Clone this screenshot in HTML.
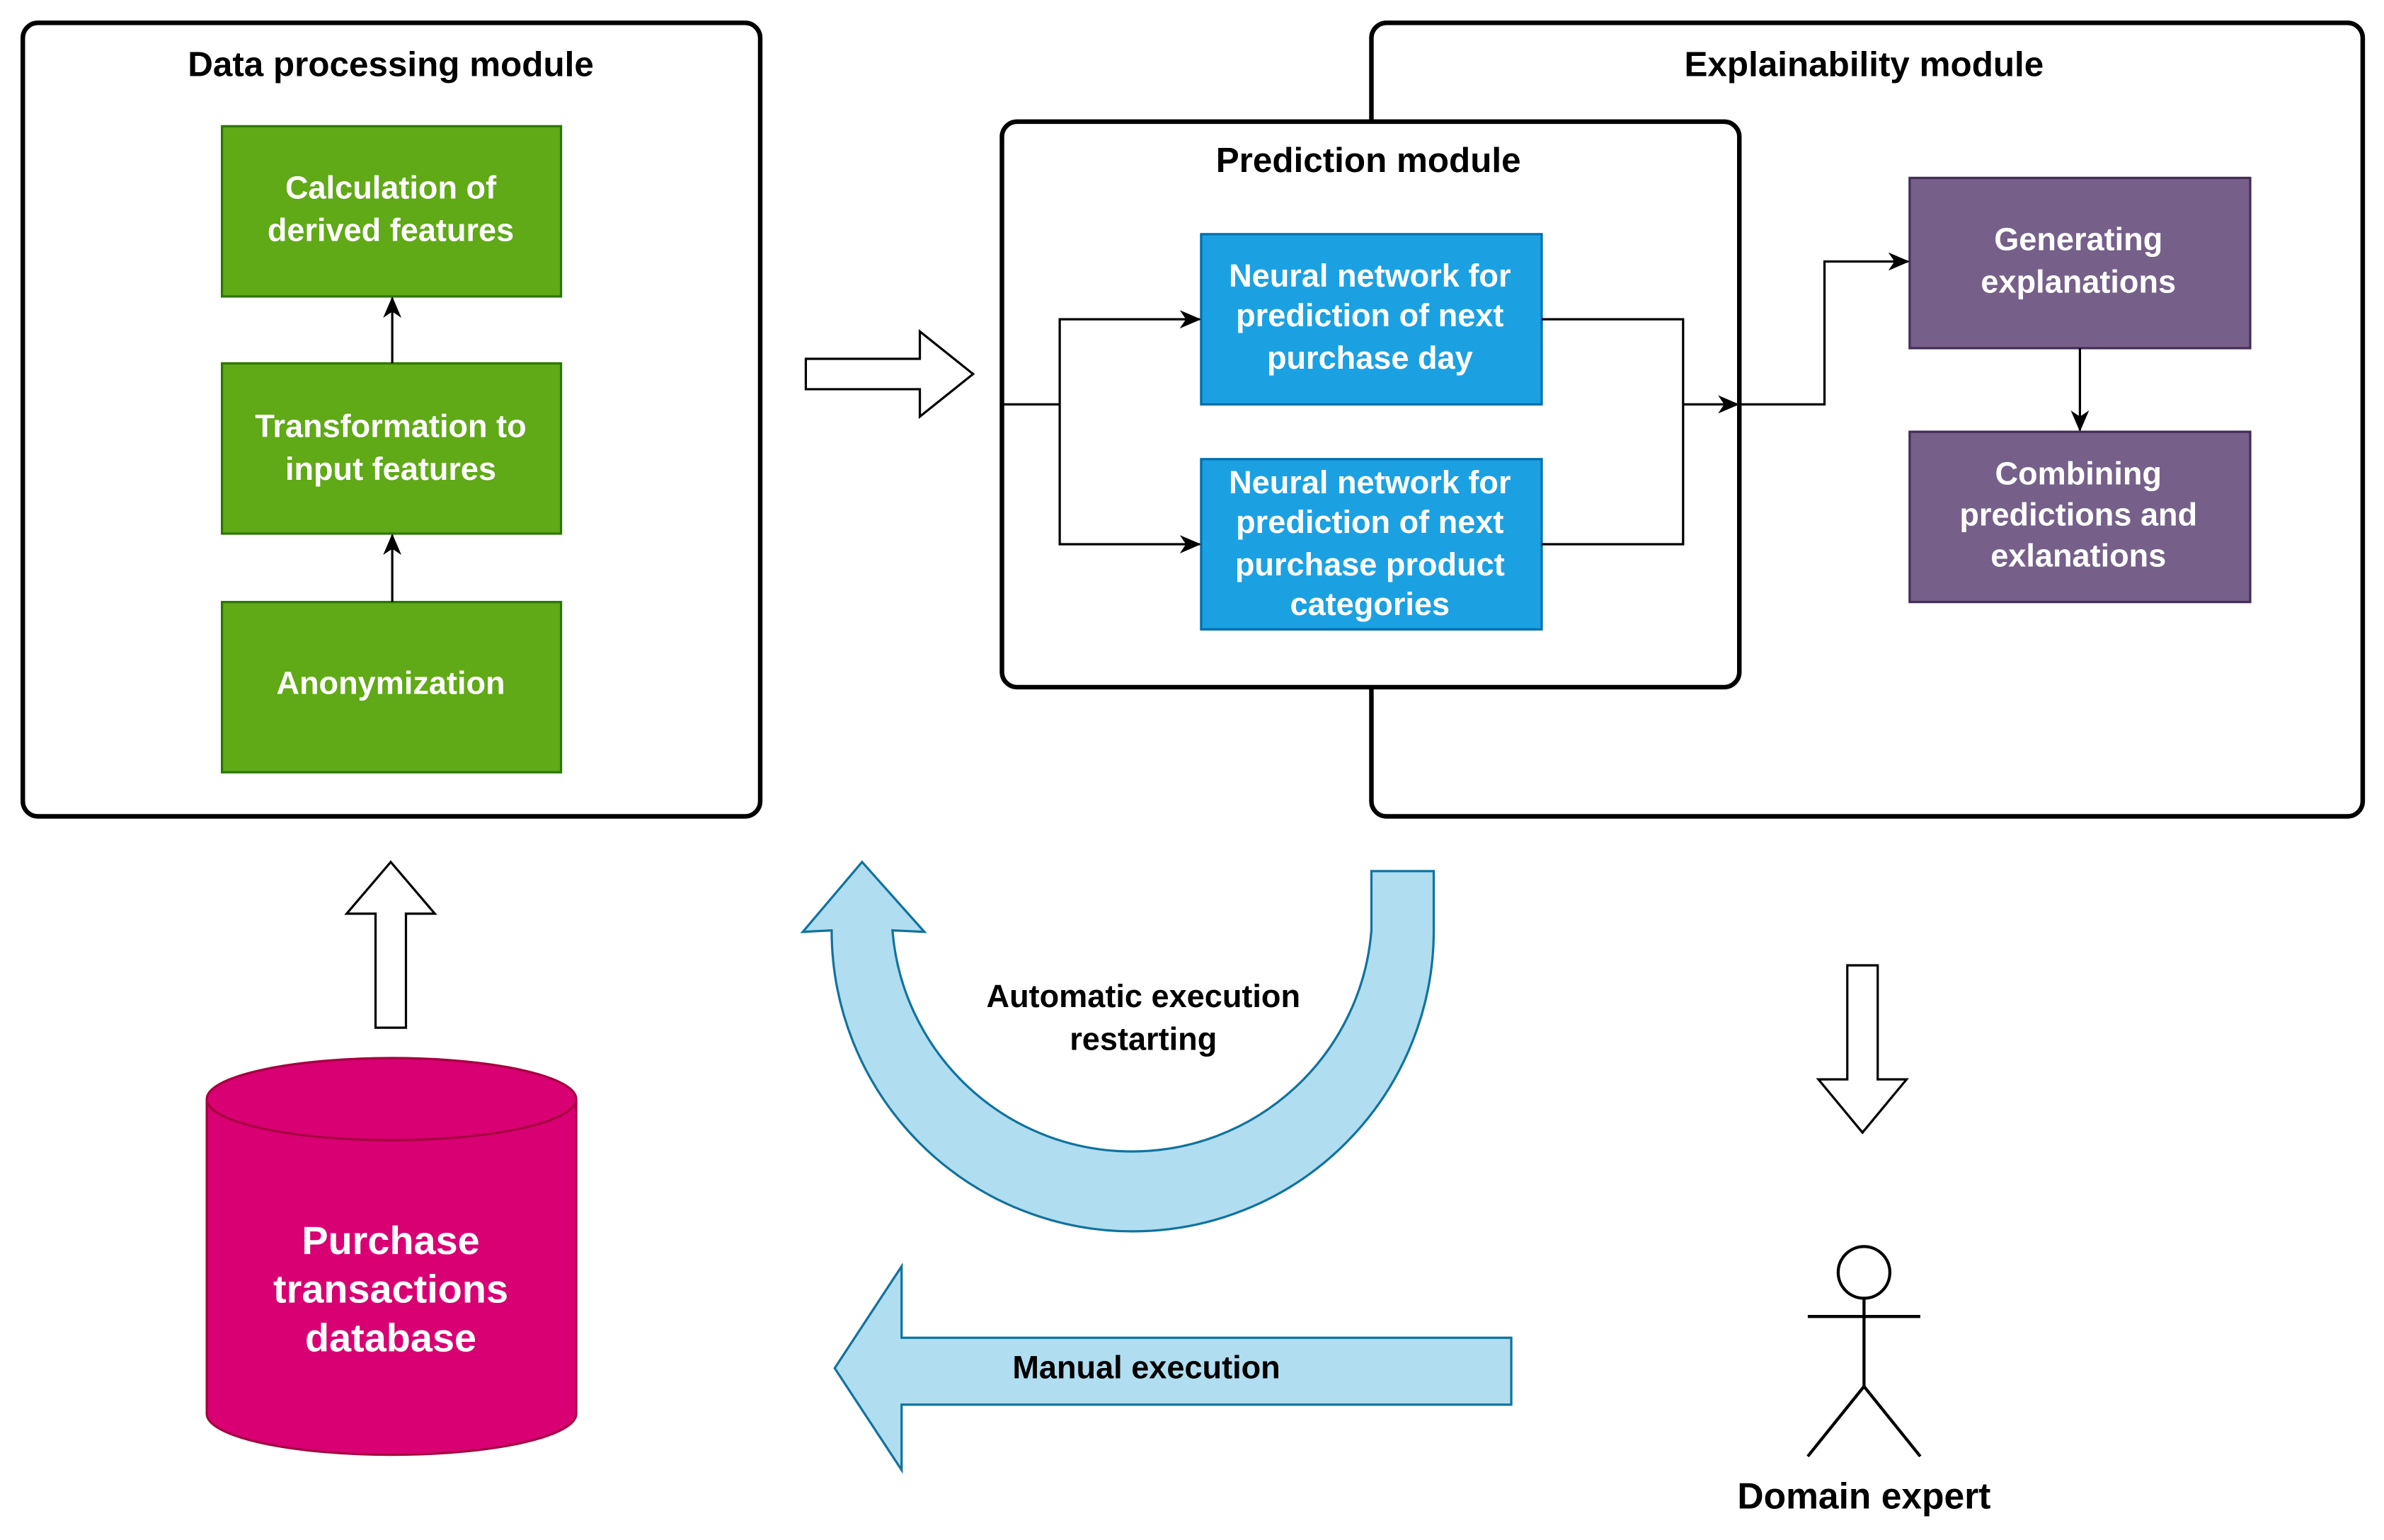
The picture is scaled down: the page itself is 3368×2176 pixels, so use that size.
<!DOCTYPE html>
<html><head><meta charset="utf-8"><style>
html,body{margin:0;padding:0;background:#fff;}
svg{display:block;}
text{font-family:"Liberation Sans",sans-serif;font-weight:bold;text-anchor:middle;dominant-baseline:middle;}
</style></head><body>
<svg width="3368" height="2176" viewBox="0 0 1568 1013" xmlns="http://www.w3.org/2000/svg">
<defs><marker id="ar" markerWidth="14" markerHeight="14" refX="13" refY="7" orient="auto" markerUnits="userSpaceOnUse"><path d="M0,1 L14,7 L0,13 L4,7 Z" fill="#000"/></marker></defs>
<rect width="1568" height="1013" fill="#fff"/>
<rect x="15" y="15" width="485" height="522" rx="10" fill="#fff" stroke="#000" stroke-width="3"/>
<text x="257" y="44" font-size="23">Data processing module</text>
<g fill="#60a917" stroke="#2d7600" stroke-width="1.5">
<rect x="146" y="83" width="223" height="112"/><rect x="146" y="239" width="223" height="112"/><rect x="146" y="396" width="223" height="112"/></g>
<g fill="#fff" font-size="21">
<text x="257" y="125">Calculation of</text><text x="257" y="153">derived features</text>
<text x="257" y="282">Transformation to</text><text x="257" y="310">input features</text>
<text x="257" y="451">Anonymization</text></g>
<g stroke="#000" stroke-width="1.5" fill="none" marker-end="url(#ar)">
<line x1="258" y1="239" x2="258" y2="196"/><line x1="258" y1="396" x2="258" y2="352"/></g>
<rect x="902" y="15" width="652" height="522" rx="10" fill="#fff" stroke="#000" stroke-width="3"/>
<text x="1226" y="44" font-size="23">Explainability module</text>
<rect x="659" y="80" width="485" height="372" rx="10" fill="#fff" stroke="#000" stroke-width="3"/>
<text x="900" y="107" font-size="23">Prediction module</text>
<g fill="#1ba1e2" stroke="#006eaf" stroke-width="1.5">
<rect x="790" y="154" width="224" height="112"/><rect x="790" y="302" width="224" height="112"/></g>
<g fill="#fff" font-size="21">
<text x="901" y="183">Neural network for</text><text x="901" y="209">prediction of next</text><text x="901" y="237">purchase day</text>
<text x="901" y="319">Neural network for</text><text x="901" y="345">prediction of next</text><text x="901" y="373">purchase product</text><text x="901" y="399">categories</text></g>
<g fill="#76608a" stroke="#432d57" stroke-width="1.5">
<rect x="1256" y="117" width="224" height="112"/><rect x="1256" y="284" width="224" height="112"/></g>
<g fill="#fff" font-size="21">
<text x="1367" y="159">Generating</text><text x="1367" y="187">explanations</text>
<text x="1367" y="313">Combining</text><text x="1367" y="340">predictions and</text><text x="1367" y="367">exlanations</text></g>
<g stroke="#000" stroke-width="1.5" fill="none">
<polyline points="659,266 697,266"/><polyline points="697,266 697,210 789,210" marker-end="url(#ar)"/><polyline points="697,266 697,358 789,358" marker-end="url(#ar)"/>
<polyline points="1014,210 1107,210 1107,358 1014,358"/>
<polyline points="1107,266 1143,266" marker-end="url(#ar)"/>
<polyline points="1144,266 1200,266 1200,172 1255,172" marker-end="url(#ar)"/>
<polyline points="1368,229 1368,283" marker-end="url(#ar)"/></g>
<g fill="#fff" stroke="#000" stroke-width="1.5">
<path d="M530,236 L605,236 L605,218 L640,246 L605,274 L605,256 L530,256 Z"/>
<path d="M247,676 L247,601 L228,601 L257,567 L286,601 L267,601 L267,676 Z"/>
<path d="M1215,635 L1235,635 L1235,710 L1254,710 L1225,745 L1196,710 L1215,710 Z"/></g>
<path d="M136,723 L136,930 A121.5,27 0 0 0 379,930 L379,723" fill="#d80073" stroke="#a50040" stroke-width="1.5"/>
<ellipse cx="257.5" cy="723" rx="121.5" ry="27" fill="#d80073" stroke="#a50040" stroke-width="1.5"/>
<g fill="#fff" font-size="26"><text x="257" y="818">Purchase</text><text x="257" y="850">transactions</text><text x="257" y="882">database</text></g>
<path d="M943,573 L943,612 A198,198 0 0 1 547,612 L528,613 L567,567 L608,613 L587,612 A158,158 0 0 0 902,612 L902,573 Z" fill="#b1ddf0" stroke="#10739e" stroke-width="1.5"/>
<g font-size="21" fill="#000"><text x="752" y="657">Automatic execution</text><text x="752" y="685">restarting</text></g>
<path d="M994,880 L593,880 L593,833 L549,900 L593,967 L593,924 L994,924 Z" fill="#b1ddf0" stroke="#10739e" stroke-width="1.5"/>
<text x="754" y="901" font-size="21">Manual execution</text>
<g stroke="#000" stroke-width="2" fill="#fff">
<circle cx="1226" cy="837" r="17"/>
<line x1="1226" y1="854" x2="1226" y2="912"/><line x1="1189" y1="866" x2="1263" y2="866"/>
<line x1="1226" y1="912" x2="1189" y2="958"/><line x1="1226" y1="912" x2="1263" y2="958"/></g>
<text x="1226" y="986" font-size="24">Domain expert</text>
</svg>
</body></html>
